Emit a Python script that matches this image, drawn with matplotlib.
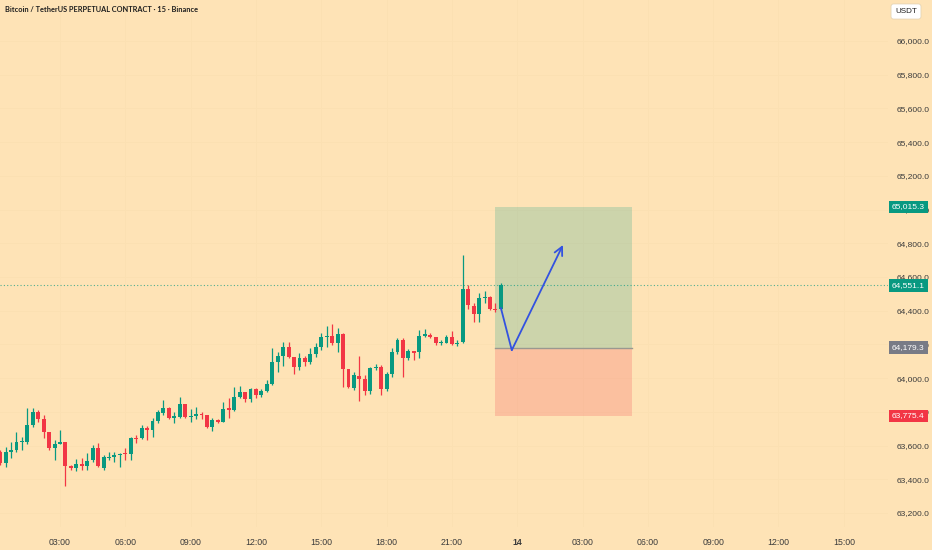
import numpy as np
import pandas as pd
import matplotlib
matplotlib.use('Agg')
import matplotlib.pyplot as plt

# 15 min candles, BTCUSDT perp
opens = [63562, 63497, 63562, 63574, 63621, 63621, 63722, 63799, 63757, 63680,
         63585, 63609, 63621, 63479, 63467, 63491, 63479, 63514, 63585, 63467,
         63526, 63532, 63544, 63556, 63550, 63645, 63645, 63704, 63692, 63745,
         63793, 63822, 63763, 63769, 63846, 63769, 63775, 63787, 63781, 63710,
         63751, 63739, 63822, 63810, 63888, 63917, 63876, 63935, 63900, 63923,
         63965, 64095, 64131, 64184, 64125, 64065, 64119, 64095, 64143, 64184,
         64244, 64249, 64208, 64261, 64053, 63941, 64012, 63994, 63923, 64059,
         64065, 63935, 64024, 64154, 64226, 64119, 64160, 64154, 64249, 64255,
         64244, 64208, 64208, 64244, 64202, 64214, 64528, 64427, 64380, 64475,
         64481, 64410, 64410]
highs = [63574, 63591, 63621, 63680, 63650, 63822, 63822, 63810, 63781, 63680,
         63633, 63692, 63621, 63485, 63520, 63526, 63556, 63603, 63615, 63544,
         63562, 63562, 63556, 63585, 63650, 63662, 63722, 63716, 63763, 63810,
         63870, 63828, 63799, 63888, 63846, 63816, 63828, 63799, 63781, 63763,
         63757, 63858, 63882, 63947, 63953, 63917, 63941, 63941, 63935, 63988,
         64178, 64154, 64214, 64214, 64125, 64148, 64131, 64178, 64208, 64267,
         64309, 64320, 64297, 64267, 64053, 64036, 64131, 64018, 64065, 64083,
         64077, 64036, 64178, 64238, 64238, 64172, 64160, 64285, 64291, 64267,
         64244, 64226, 64255, 64279, 64226, 64730, 64552, 64445, 64505, 64516,
         64487, 64445, 64564]
lows = [63485, 63473, 63526, 63562, 63574, 63609, 63710, 63739, 63645, 63574,
        63514, 63609, 63360, 63455, 63449, 63455, 63455, 63502, 63473, 63455,
        63514, 63502, 63473, 63514, 63514, 63615, 63639, 63633, 63650, 63733,
        63781, 63757, 63733, 63763, 63763, 63739, 63757, 63757, 63704, 63686,
        63733, 63739, 63763, 63804, 63882, 63858, 63858, 63882, 63888, 63917,
        63959, 64036, 64071, 64119, 64024, 64048, 64071, 64083, 64125, 64166,
        64184, 64196, 64154, 63947, 63941, 63929, 63864, 63900, 63906, 64048,
        63900, 63923, 64006, 64143, 64006, 64107, 64107, 64119, 64244, 64238,
        64196, 64196, 64208, 64196, 64190, 64208, 64410, 64332, 64332, 64445,
        64404, 64392, 64404]
closes = [63497, 63562, 63574, 63621, 63627, 63722, 63799, 63757, 63680, 63585,
          63609, 63621, 63479, 63467, 63491, 63479, 63508, 63585, 63479, 63532,
          63532, 63544, 63550, 63550, 63645, 63639, 63704, 63692, 63745, 63799,
          63822, 63763, 63775, 63846, 63769, 63775, 63787, 63781, 63710, 63751,
          63739, 63816, 63810, 63888, 63917, 63876, 63935, 63900, 63923, 63965,
          64095, 64131, 64184, 64125, 64065, 64119, 64095, 64143, 64184, 64244,
          64249, 64208, 64261, 64053, 63947, 64018, 63994, 63923, 64059, 64065,
          63935, 64024, 64154, 64226, 64119, 64160, 64148, 64249, 64261, 64244,
          64208, 64214, 64244, 64202, 64208, 64528, 64433, 64380, 64475, 64481,
          64410, 64404, 64551.1]

last_price = 64551.1
take_profit = 65015.3
entry = 64179.3
stop_loss = 63775.4
pos_start, pos_end = 23.0, 29.25          # hours after 13th 00:00
arrow_path = [(23.25, 64416), (23.75, 64166), (26.1, 64790)]

time_ticks = [3, 6, 9, 12, 15, 18, 21, 24, 27, 30, 33, 36, 39]
time_labels = ['03:00', '06:00', '09:00', '12:00', '15:00', '18:00', '21:00',
               '14', '03:00', '06:00', '09:00', '12:00', '15:00']
price_ticks = np.arange(63200, 66001, 200)

BG = '#fee3b6'
UP = '#089981'
DOWN = '#f23645'
TXT = '#3b3b3b'
FONT = 'Liberation Sans'

day0 = pd.Timestamp('2024-10-13 00:00')
times = pd.date_range('2024-10-13 00:15', periods=len(opens), freq='15min')
hrs = ((times - day0) / pd.Timedelta(hours=1)).to_numpy()

o = np.array(opens, float)
h = np.array(highs, float)
l = np.array(lows, float)
c = np.array(closes, float)
col = np.where(c >= o, UP, DOWN)

fig = plt.figure(figsize=(9.32, 5.50), dpi=100, facecolor=BG)
ax = fig.add_axes([0, 23/550, 888/932, 527/550], facecolor=BG)

# grid is barely visible on this theme
for p in price_ticks:
    ax.axhline(p, color='#fbe0b2', lw=0.6, zorder=0)
for t in time_ticks:
    ax.axvline(t, color='#fbe0b2', lw=0.6, zorder=0)

# position tool
ax.fill_between([pos_start, pos_end], entry, take_profit, color=UP, alpha=0.2, lw=0, zorder=1)
ax.fill_between([pos_start, pos_end], stop_loss, entry, color=DOWN, alpha=0.2, lw=0, zorder=1)
ax.plot([pos_start, pos_end], [entry, entry], color='#9a9890', lw=1.0, zorder=1.5)

# candles
ax.vlines(hrs, l, h, colors=col, lw=0.9, zorder=2)
body = np.maximum(np.abs(c - o), 6)
ax.bar(hrs, body, bottom=np.minimum(o, c), width=0.18, color=col, lw=0, zorder=3)

# last price line
ax.axhline(last_price, color=UP, lw=0.8, ls=(0, (1, 2)), alpha=0.7, zorder=1.8)

# arrow drawing
xs, ys = zip(*arrow_path)
ax.plot(xs[:-1], ys[:-1], color='#3352e0', lw=1.3, zorder=4, solid_capstyle='round')
ax.annotate('', xy=arrow_path[2], xytext=arrow_path[1],
            arrowprops=dict(arrowstyle='->,head_length=0.6,head_width=0.3',
                            color='#3352e0', lw=1.3, shrinkA=0, shrinkB=0), zorder=4)

ax.set_xlim(0.244, 41.03)
ax.set_ylim(63117, 66243)
for s in ax.spines.values():
    s.set_visible(False)

ax.yaxis.tick_right()
ax.set_yticks(price_ticks)
ax.set_yticklabels([f'{p:,.1f}' for p in price_ticks], family=FONT)
ax.tick_params(axis='y', length=0, pad=6.5, labelsize=6, labelcolor=TXT)
ax.set_xticks(time_ticks)
ax.set_xticklabels(time_labels, family=FONT)
ax.tick_params(axis='x', length=0, pad=8, labelsize=6.3, labelcolor=TXT)
for lab in ax.get_xticklabels():
    if lab.get_text() == '14':
        lab.set_fontweight('bold')

# price badges on the scale
badges = [(take_profit, UP), (last_price, UP), (entry, '#787b86'), (stop_loss, DOWN)]
for val, bc in badges:
    ax.text(892/888, val, f'{val:,.1f}', transform=ax.get_yaxis_transform(),
            ha='left', va='center', fontsize=6, family=FONT, color='white',
            clip_on=False, zorder=6,
            bbox=dict(boxstyle='square,pad=0.35', fc=bc, ec='none'))

fig.text(5/932, 1 - 10/550, 'Bitcoin / TetherUS PERPETUAL CONTRACT · 15 · Binance',
         fontsize=5.3, fontweight='bold', color='#1e1e1e', va='center', family='Lato')
fig.text(906/932, 1 - 11.5/550, 'USDT', fontsize=5.8, family=FONT, color='#1e1e1e',
         ha='center', va='center',
         bbox=dict(boxstyle='round,pad=0.5,rounding_size=0.3', fc='white', ec='#e0d0b0', lw=0.5))

fig.savefig('out.png', dpi=100, facecolor=BG)
